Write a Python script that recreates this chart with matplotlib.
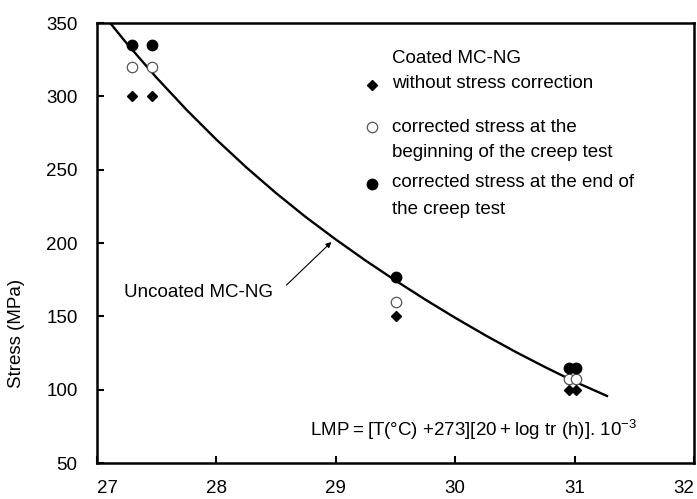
import matplotlib
matplotlib.use("Agg")
import matplotlib.pyplot as plt

plt.rcParams['font.family'] = ['Liberation Sans', 'DejaVu Sans']

# coated specimens
lmp_left = [27.29, 27.46]
lmp_mid = [29.50]
lmp_right = [30.95, 31.01]

lmp_pts = lmp_left + lmp_mid + lmp_right
stress_raw = [300, 300, 150, 100, 100]          # without stress correction
stress_begin = [320, 320, 160, 107, 107]        # corrected at beginning
stress_end = [335, 335, 177, 114.5, 114.5]      # corrected at end

# uncoated master curve
curve_lmp = [27.10, 27.25, 27.50, 27.75, 28.00, 28.25, 28.50, 28.75, 29.00,
             29.25, 29.50, 29.75, 30.00, 30.25, 30.50, 30.75, 31.00, 31.28]
curve_stress = [351, 336, 312.6, 290.8, 270.5, 251.6, 234, 217.6, 202.4,
                188, 174.4, 161.4, 149, 137.2, 126, 115.5, 105.5, 95.4]

fig = plt.figure(figsize=(6.97, 4.99), dpi=100)
ax = fig.add_axes([97 / 697, 36 / 499, 597 / 697, 440 / 499])

ax.plot(curve_lmp, curve_stress, color='black', lw=1.7, solid_capstyle='butt',
        solid_joinstyle='round')
ax.plot(lmp_pts, stress_raw, 'D', color='black', ms=5, ls='none')
ax.plot(lmp_pts, stress_begin, 'o', mfc='white', mec='#555555', mew=0.9, ms=7.5, ls='none')
ax.plot(lmp_pts, stress_end, 'o', color='black', ms=7.5, ls='none')

fs = 13.5
ax.set_xlim(27, 32)
ax.set_ylim(50, 350)
ax.set_xticks([27, 28, 29, 30, 31, 32])
ax.set_yticks([50, 100, 150, 200, 250, 300, 350])
ax.tick_params(direction='in', length=5, width=1.5, labelsize=fs)
ax.tick_params(axis='x', pad=12)
ax.tick_params(axis='y', pad=14)
xl = ax.get_xticklabels()
xl[0].set_ha('left')
xl[-1].set_ha('right')
for side in ['left', 'bottom', 'top', 'right']:
    ax.spines[side].set_linewidth(1.8)

ax.set_ylabel('Stress (MPa)', fontsize=fs)
ax.yaxis.set_label_coords(-0.12, 0.295)

# legend drawn by hand
ax.plot([29.3], [308], 'D', color='black', ms=5.5)
ax.plot([29.3], [279], 'o', mfc='white', mec='#555555', mew=0.9, ms=7.5)
ax.plot([29.3], [240], 'o', color='black', ms=7.5)
ax.text(29.47, 326, 'Coated MC-NG', fontsize=fs, va='center')
ax.text(29.47, 309, 'without stress correction', fontsize=fs, va='center')
ax.text(29.47, 278.5, 'corrected stress at the', fontsize=fs, va='center')
ax.text(29.47, 262, 'beginning of the creep test', fontsize=fs, va='center')
ax.text(29.47, 241.5, 'corrected stress at the end of', fontsize=fs, va='center')
ax.text(29.47, 223, 'the creep test', fontsize=fs, va='center')

ax.annotate('', xy=(28.98, 202), xytext=(28.57, 170),
            arrowprops=dict(arrowstyle='-|>', color='black', lw=0.8,
                            mutation_scale=8))
ax.text(27.23, 166, 'Uncoated MC-NG', fontsize=fs, va='center')

ax.text(28.78, 72.5, 'LMP\u2009=\u2009[T(°C) +273][20\u2009+\u2009log tr (h)]. 10$^{\\mathregular{-3}}$',
        fontsize=fs, va='center')

fig.savefig('out.png', dpi=100)
